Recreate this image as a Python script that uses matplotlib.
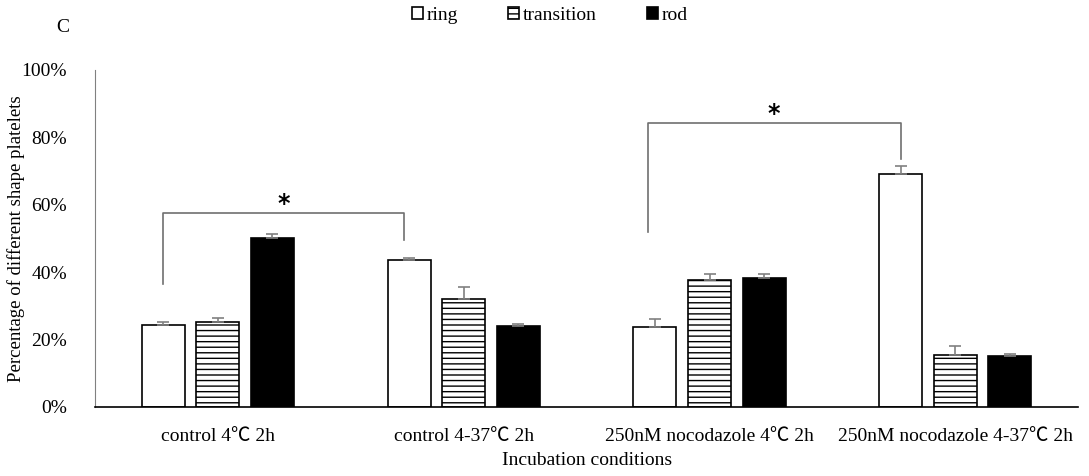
import numpy as np
import matplotlib
matplotlib.use('Agg')
from matplotlib import pyplot as plt

plt.rcParams['font.family'] = ['Liberation Serif', 'Noto Sans CJK SC']

conditions = ['control 4℃ 2h', 'control 4-37℃ 2h',
              '250nM nocodazole 4℃ 2h', '250nM nocodazole 4-37℃ 2h']
shapes = ['ring', 'transition', 'rod']
ring = [24.2, 43.6, 23.8, 69.2]
transition = [25.1, 32.0, 37.6, 15.5]
rod = [50.0, 24.0, 38.2, 15.0]
ring_err = [0.9, 0.6, 2.2, 2.2]
transition_err = [1.3, 3.5, 1.8, 2.7]
rod_err = [1.3, 0.7, 1.2, 0.8]

fig = plt.figure(figsize=(10.89, 4.76), dpi=100)
ax = fig.add_axes([0.0872, 0.145, 0.903, 0.708])

x = np.arange(len(conditions))
w = 0.175
off = 0.222
styles = [dict(color='white', edgecolor='black', hatch=None),
          dict(color='white', edgecolor='black', hatch='---'),
          dict(color='black', edgecolor='black', hatch=None)]
series = [(ring, ring_err), (transition, transition_err), (rod, rod_err)]
for i, (vals, errs) in enumerate(series):
    st = styles[i]
    ax.bar(x + (i - 1) * off, vals, w, facecolor=st['color'], edgecolor=st['edgecolor'],
           hatch=st['hatch'], linewidth=1.2, label=shapes[i], zorder=2)
    ax.errorbar(x + (i - 1) * off, vals, yerr=[np.zeros(4), errs], fmt='none',
                ecolor='#808080', elinewidth=1.2, capsize=4, capthick=1.2, zorder=3)

# significance brackets between ring bars
def bracket(x0, x1, y_left, y_right, y_top):
    ax.plot([x0, x0, x1, x1], [y_left, y_top, y_top, y_right], color='#707070', lw=1.2,
            zorder=1)
    ax.text((x0 + x1) / 2, y_top + 2.6, '*', ha='center', va='center', fontsize=17,
            fontweight='bold', fontfamily='DejaVu Sans')

bracket(x[0] - off, x[1] - off - 0.02, 36.5, 49.5, 57.5)
bracket(x[2] - off - 0.03, x[3] - off, 52.0, 73.6, 84.3)

ax.set_xlim(-0.5, 3.5)
ax.set_ylim(0, 100)
ax.set_yticks(np.arange(0, 101, 20))
ax.set_yticklabels([f'{v}%' for v in range(0, 101, 20)], fontsize=14)
ax.set_xticks(x)
ax.set_xticklabels(conditions, fontsize=14)
ax.tick_params(axis='both', length=0)
ax.tick_params(axis='y', pad=20)
ax.tick_params(axis='x', pad=15)
for s in ['top', 'right']:
    ax.spines[s].set_visible(False)
ax.spines['left'].set_color('#808080')
ax.spines['bottom'].set_color('black')
ax.spines['bottom'].set_linewidth(1.2)

ax.set_xlabel('Incubation conditions', fontsize=14)
ax.set_ylabel('Percentage of different shape platelets', fontsize=13.5)
ax.xaxis.set_label_coords(0.5, -0.135)
ax.yaxis.set_label_coords(-0.071, 0.5)

fig.text(0.058, 0.943, 'C', fontsize=14, ha='center', va='center')
fig.legend(loc='center', bbox_to_anchor=(0.505, 0.968), ncol=3, frameon=False,
           fontsize=14, handlelength=0.55, handleheight=0.55, handletextpad=0.2,
           columnspacing=2.6)

fig.savefig('out.png', dpi=100)
